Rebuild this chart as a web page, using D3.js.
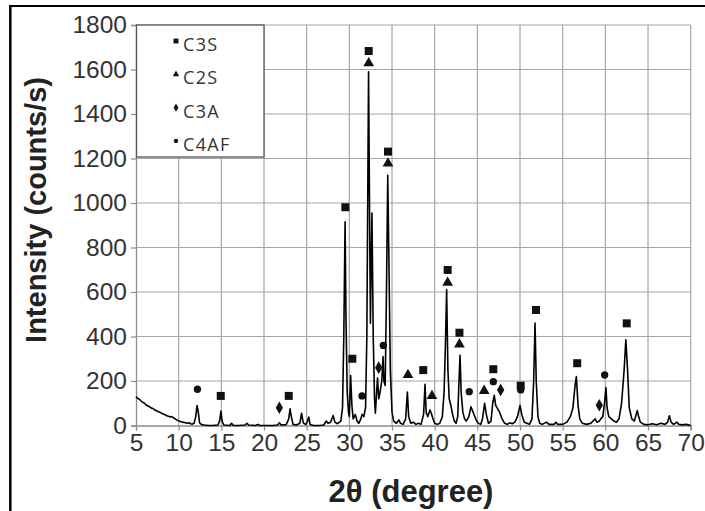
<!DOCTYPE html>
<html>
<head>
<meta charset="utf-8">
<script src="https://cdn.jsdelivr.net/npm/d3@7"></script>
<style>
  body { margin: 0; background: #fff; }
  svg { display: block; }
</style>
</head>
<body>
<svg id="xrd-chart"></svg>
<script>
// XRD pattern, [2theta, intensity]
const xrdPattern = [
  [5.0, 130], [5.2, 122], [5.4, 118], [5.6, 110], [5.8, 104], [6.0, 100], [6.2, 92], [6.4, 88],
  [6.6, 84], [6.8, 78], [7.0, 76], [7.2, 70], [7.4, 66], [7.6, 62], [7.8, 60], [8.0, 55],
  [8.2, 52], [8.4, 48], [8.6, 44], [8.8, 42], [9.0, 38], [9.2, 40], [9.4, 34], [9.6, 30],
  [9.8, 24], [10.0, 22], [10.2, 18], [10.4, 16], [10.6, 14], [10.8, 12], [11.0, 10], [11.2, 12],
  [11.4, 8], [11.6, 6], [11.8, 10], [12.0, 40], [12.15, 90], [12.3, 60], [12.45, 12], [12.7, 4],
  [13.0, 2], [13.5, 0], [14.0, 0], [14.6, 2], [14.8, 20], [14.95, 65], [15.1, 18], [15.3, 2],
  [16.0, 0], [16.2, 10], [16.4, 0], [17.0, 0], [17.8, 2], [18.0, 10], [18.2, 2], [19.0, 0],
  [19.3, 5], [19.5, 0], [20.0, 0], [21.0, 0], [21.6, 2], [21.8, 12], [22.0, 2], [22.6, 4],
  [22.9, 30], [23.05, 75], [23.2, 40], [23.4, 5], [23.8, 2], [24.2, 10], [24.4, 55], [24.6, 12],
  [24.9, 4], [25.1, 20], [25.25, 38], [25.4, 5], [25.8, 0], [26.5, 0], [27.0, 2], [27.3, 20],
  [27.5, 10], [27.8, 15], [28.1, 45], [28.3, 15], [28.6, 8], [29.0, 20], [29.2, 80], [29.35, 400],
  [29.5, 915], [29.6, 500], [29.75, 150], [29.9, 60], [30.0, 40], [30.15, 225], [30.3, 90], [30.45, 30],
  [30.7, 50], [30.9, 20], [31.1, 10], [31.3, 25], [31.5, 50], [31.7, 40], [31.9, 80], [32.05, 400],
  [32.25, 1590], [32.4, 800], [32.47, 460], [32.55, 700], [32.65, 955], [32.8, 400], [32.95, 120], [33.05, 55],
  [33.2, 150], [33.3, 213], [33.45, 120], [33.6, 150], [33.8, 200], [33.95, 310], [34.05, 200], [34.2, 180],
  [34.35, 600], [34.5, 1125], [34.65, 700], [34.8, 250], [35.0, 60], [35.2, 20], [35.5, 10], [35.8, 25],
  [36.0, 10], [36.3, 5], [36.6, 30], [36.8, 150], [36.95, 40], [37.2, 10], [37.5, 15], [37.8, 5],
  [38.1, 10], [38.4, 5], [38.7, 50], [38.87, 185], [39.0, 60], [39.2, 40], [39.45, 70], [39.6, 55],
  [39.8, 30], [40.0, 10], [40.3, 5], [40.6, 10], [40.9, 40], [41.1, 150], [41.25, 350], [41.4, 610],
  [41.55, 250], [41.7, 120], [41.9, 90], [42.1, 50], [42.3, 20], [42.5, 10], [42.7, 40], [42.85, 200],
  [42.97, 315], [43.1, 150], [43.3, 60], [43.5, 30], [43.7, 20], [44.0, 40], [44.25, 84], [44.5, 60],
  [44.8, 30], [45.1, 10], [45.4, 5], [45.6, 30], [45.85, 100], [46.05, 50], [46.3, 10], [46.6, 20],
  [46.8, 100], [46.98, 136], [47.15, 90], [47.3, 80], [47.6, 60], [47.9, 30], [48.2, 10], [48.5, 5],
  [48.8, 12], [49.1, 8], [49.4, 15], [49.7, 40], [50.0, 90], [50.2, 50], [50.5, 15], [50.8, 10],
  [51.1, 5], [51.4, 30], [51.6, 200], [51.76, 460], [51.9, 200], [52.1, 40], [52.3, 10], [52.6, 5],
  [53.1, 15], [53.4, 5], [54.0, 5], [54.2, 15], [54.4, 5], [55.0, 5], [55.5, 15], [55.9, 40],
  [56.2, 80], [56.45, 180], [56.6, 220], [56.8, 90], [57.0, 30], [57.3, 10], [57.8, 5], [58.3, 10],
  [58.8, 30], [59.0, 15], [59.3, 20], [59.45, 30], [59.7, 40], [59.9, 100], [60.07, 170], [60.2, 80],
  [60.4, 40], [60.7, 30], [61.0, 20], [61.3, 15], [61.6, 30], [61.9, 100], [62.2, 250], [62.4, 385],
  [62.6, 250], [62.8, 80], [63.1, 30], [63.4, 20], [63.74, 67], [63.9, 40], [64.1, 15], [64.5, 5],
  [65.0, 3], [65.5, 8], [66.0, 3], [66.5, 10], [67.0, 5], [67.3, 15], [67.5, 44], [67.7, 15],
  [68.0, 5], [68.4, 15], [68.6, 5], [69.0, 3], [69.5, 5], [70.0, 0]
];

// phase markers [2theta, intensity]
const c3sPeaks = [
  [14.93, 133], [22.9, 133], [29.53, 981], [30.35, 300], [32.27, 1683], [34.53, 1231],
  [38.66, 249], [41.52, 699], [42.9, 417], [46.87, 253], [50.08, 179], [51.87, 519],
  [56.7, 280], [62.5, 459]
];
const c2sPeaks = [
  [32.27, 1628], [34.53, 1178], [36.87, 227], [39.68, 133], [41.52, 642], [42.9, 365], [45.8, 156]
];
const c3aPeaks = [[21.8, 80], [33.44, 260], [47.73, 160], [59.29, 91]];
const c4afPeaks = [[12.2, 163], [31.48, 133], [33.98, 360], [44.05, 152], [46.87, 197], [50.08, 160], [59.92, 227]];

const legendLabels = ["C3S", "C2S", "C3A", "C4AF"];
const xTicks = [5, 10, 15, 20, 25, 30, 35, 40, 45, 50, 55, 60, 65, 70];
const yTicks = [0, 200, 400, 600, 800, 1000, 1200, 1400, 1600, 1800];

const W = 705, H = 511;
const margin = { top: 25, right: 14.3, bottom: 85.5, left: 136 },
  width = W - margin.left - margin.right,
  height = H - margin.top - margin.bottom;

const root = d3.select("#xrd-chart").attr("width", W).attr("height", H);

// outer frame (only top and left edges are in view)
root.append("line").attr("x1", 9).attr("x2", W).attr("y1", 6).attr("y2", 6)
  .attr("stroke", "#000").attr("stroke-width", 2.2);
root.append("line").attr("x1", 10.3).attr("x2", 10.3).attr("y1", 5).attr("y2", H)
  .attr("stroke", "#000").attr("stroke-width", 2.5);

const svg = root.append("g").attr("transform", `translate(${margin.left},${margin.top})`);

const x = d3.scaleLinear().domain([5, 70]).range([0, width]);
const y = d3.scaleLinear().domain([0, 1800]).range([height, 0]);

// grid
svg.append("g").selectAll("line").data(xTicks.slice(1)).join("line")
  .attr("x1", (d) => x(d)).attr("x2", (d) => x(d)).attr("y1", 0).attr("y2", height)
  .attr("stroke", "#a6a6a6").attr("stroke-width", 1.2);
svg.append("g").selectAll("line").data(yTicks.slice(1)).join("line")
  .attr("x1", 0).attr("x2", width).attr("y1", (d) => y(d)).attr("y2", (d) => y(d))
  .attr("stroke", "#a6a6a6").attr("stroke-width", 1.2);

// axes
const xAxis = svg.append("g")
  .attr("transform", `translate(0,${height})`)
  .call(d3.axisBottom(x).tickValues(xTicks).tickSize(5).tickPadding(3).tickFormat(d3.format("d")));
const yAxis = svg.append("g")
  .call(d3.axisLeft(y).tickValues(yTicks).tickSize(5).tickPadding(4).tickFormat(d3.format("d")));

[xAxis, yAxis].forEach((g) => {
  g.select(".domain").attr("stroke", "#8c8c8c").attr("stroke-width", 1.3);
  g.selectAll(".tick line").attr("stroke", "#8c8c8c").attr("stroke-width", 1.2);
  g.selectAll(".tick text")
    .attr("fill", "#333")
    .style("font-family", "'Liberation Sans', Arial, sans-serif")
    .style("font-size", "24.5px");
});

// legend box
const legend = svg.append("g");
legend.append("rect")
  .attr("x", 0.5).attr("y", 0).attr("width", 127.5).attr("height", 132)
  .attr("fill", "#fff").attr("stroke", "#555").attr("stroke-width", 1.3);

const symbolTypes = [d3.symbolSquare, d3.symbolTriangle, d3.symbolDiamond, d3.symbolCircle];
const legendRows = legend.selectAll(".row").data(legendLabels).join("g")
  .attr("class", "row")
  .attr("transform", (d, i) => `translate(40,${20 + i * 33.3})`);
legendRows.append("path")
  .attr("d", (d, i) => d3.symbol().type(symbolTypes[i]).size([24, 18, 20, 15][i])())
  .attr("transform", "translate(0,-4)")
  .attr("fill", "#111");
legendRows.append("text")
  .attr("x", 7).attr("y", 6)
  .attr("fill", "#333")
  .style("font-family", "'Open Sans', 'DejaVu Sans', sans-serif")
  .style("font-size", "18px")
  .style("letter-spacing", "1.3px")
  .text((d) => d);

// pattern line
const line = d3.line().x((d) => x(d[0])).y((d) => y(d[1]));
svg.append("path")
  .datum(xrdPattern)
  .attr("d", line)
  .attr("fill", "none")
  .attr("stroke", "#000")
  .attr("stroke-width", 1.6)
  .attr("stroke-linejoin", "round");

// phase markers
const markerSets = [
  { data: c3sPeaks, type: d3.symbolSquare, size: 64 },
  { data: c2sPeaks, type: d3.symbolTriangle, size: 50 },
  { data: c3aPeaks, type: d3.symbolDiamond, size: 46 },
  { data: c4afPeaks, type: d3.symbolCircle, size: 42 }
];
markerSets.forEach((m) => {
  svg.append("g").selectAll("path").data(m.data).join("path")
    .attr("transform", (d) => `translate(${x(d[0])},${y(d[1])})`)
    .attr("d", d3.symbol().type(m.type).size(m.size)())
    .attr("fill", "#111");
});

// axis titles
svg.append("text")
  .attr("x", (325 + 497) / 2 - margin.left)
  .attr("y", height + 76)
  .attr("text-anchor", "middle")
  .attr("fill", "#222")
  .style("font-family", "'Liberation Sans', Arial, sans-serif")
  .style("font-weight", "bold")
  .style("font-size", "31px")
  .text("2θ (degree)");

svg.append("text")
  .attr("transform", `translate(${46 - margin.left},${210 - margin.top}) rotate(-90)`)
  .attr("text-anchor", "middle")
  .attr("fill", "#222")
  .style("font-family", "'Liberation Sans', Arial, sans-serif")
  .style("font-weight", "bold")
  .style("font-size", "29px")
  .text("Intensity (counts/s)");
</script>
</body>
</html>
